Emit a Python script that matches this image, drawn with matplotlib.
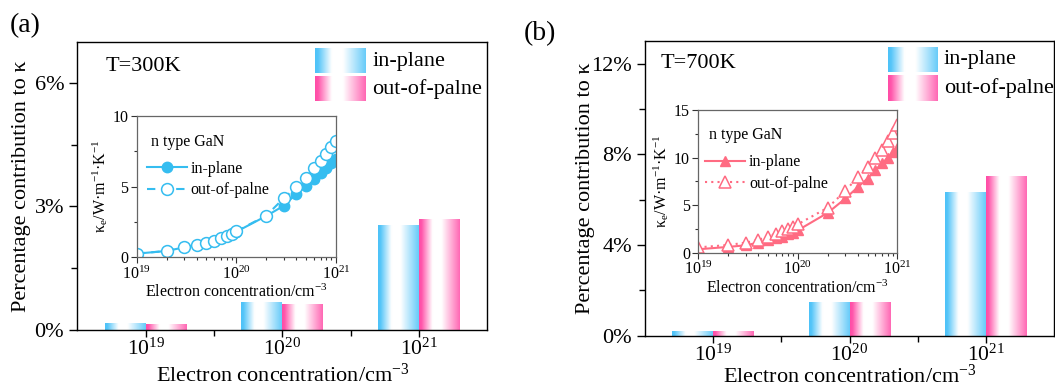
import numpy as np
import matplotlib
matplotlib.use("Agg")
import matplotlib.pyplot as plt
from matplotlib.colors import to_rgb
from matplotlib.ticker import FixedLocator, MultipleLocator, LogLocator, NullFormatter, PercentFormatter

plt.rcParams["font.family"] = ["Liberation Serif", "DejaVu Serif"]
plt.rcParams["mathtext.fontset"] = "custom"
plt.rcParams["mathtext.rm"] = "Liberation Serif"
plt.rcParams["mathtext.it"] = "Liberation Serif:italic"
plt.rcParams["mathtext.bf"] = "Liberation Serif:bold"

# ---- bar data: share of electronic contribution (%) ----
conc_labels = [r"$10^{19}$", r"$10^{20}$", r"$10^{21}$"]
pct_300_in = [0.15, 0.67, 2.54]
pct_300_out = [0.13, 0.63, 2.68]
pct_700_in = [0.21, 1.49, 6.33]
pct_700_out = [0.21, 1.49, 7.02]

# ---- inset data: electronic thermal conductivity (W/m/K) ----
n_conc = [1e19, 2e19, 3e19, 4e19, 5e19, 6e19, 7e19, 8e19, 9e19,
          1e20, 2e20, 3e20, 4e20, 5e20, 6e20, 7e20, 8e20, 9e20, 1e21]
ke_300_in = [0.24, 0.43, 0.69, 0.88, 1.00, 1.17, 1.33, 1.50, 1.65, 1.80,
             2.92, 3.65, 4.50, 5.05, 5.55, 5.95, 6.30, 6.65, 7.00]
ke_300_out = [0.24, 0.43, 0.69, 0.88, 1.00, 1.17, 1.33, 1.52, 1.67, 1.83,
              2.95, 4.19, 4.95, 5.64, 6.31, 6.79, 7.31, 7.79, 8.24]
ke_700_in = [0.35, 0.60, 0.77, 1.05, 1.30, 1.50, 1.69, 1.93, 2.10, 2.35,
             4.20, 5.70, 6.90, 7.80, 8.70, 9.40, 10.0, 10.6, 11.0]
ke_700_out = [0.55, 0.80, 1.05, 1.33, 1.69, 2.00, 2.28, 2.53, 2.74, 2.99,
              4.74, 6.50, 7.97, 9.03, 10.0, 10.85, 11.77, 12.65, 13.4]

BLUE_BAR = "#4CC2F8"
PINK_BAR = "#FF4CA6"
BLUE_LINE = "#35BDF0"
PINK_LINE = "#FF6B82"
FS = 16
FS_IN = 11.5


def gradient_row(color, n=256):
    t = np.linspace(0, 1, n)
    w = np.interp(t, [0.0, 0.06, 0.33, 0.55, 1.0], [1.0, 0.95, 0.0, 0.0, 0.85])
    base = np.array(to_rgb(color))
    rgb = 1 - w[:, None] * (1 - base)
    return rgb[None, :, :]


def gradient_bars(ax, heights, offset, width, color):
    xs = np.arange(len(heights)) + offset
    bars = ax.bar(xs, heights, width, color="none", edgecolor="none", zorder=2)
    for b in bars:
        x0, w, h = b.get_x(), b.get_width(), b.get_height()
        ax.imshow(gradient_row(color), extent=[x0, x0 + w, 0, h], aspect="auto",
                  interpolation="bilinear", zorder=2)


def legend_patch(ax, box, color):
    ax.imshow(gradient_row(color), extent=box, transform=ax.transAxes, aspect="auto",
              interpolation="bilinear", zorder=3)


def main_panel(ax, p_in, p_out, ymax, major, minor, temp, leg, tpos):
    gradient_bars(ax, p_in, -0.15, 0.3, BLUE_BAR)
    gradient_bars(ax, p_out, 0.15, 0.3, PINK_BAR)
    ax.set_xticks([0, 1, 2], conc_labels)
    ax.xaxis.set_minor_locator(FixedLocator([0.5, 1.5]))
    ax.yaxis.set_major_locator(MultipleLocator(major))
    ax.yaxis.set_minor_locator(MultipleLocator(minor))
    ax.yaxis.set_major_formatter(PercentFormatter(xmax=100, decimals=0))
    ax.tick_params(which="both", direction="out", labelsize=FS, width=1.0,
                   top=False, right=False)
    ax.tick_params(which="major", length=6)
    ax.tick_params(which="minor", length=4)
    ax.tick_params(axis="x", which="major", pad=1.5, length=5, labelsize=15.5)
    for s in ax.spines.values():
        s.set_linewidth(1.0)
    ax.set_ylabel("Percentage contribution to κ", fontsize=FS)
    ax.set_xlabel("Electron concentration/cm$^{-3}$", fontsize=FS)
    ax.text(tpos[0], tpos[1], temp, transform=ax.transAxes, fontsize=FS,
            ha="left", va="center")
    x0, x1, y0a, y1a, y0b, y1b, tx = leg
    legend_patch(ax, [x0, x1, y0a, y1a], BLUE_BAR)
    legend_patch(ax, [x0, x1, y0b, y1b], PINK_BAR)
    ax.text(tx, (y0a + y1a) / 2, "in-plane", transform=ax.transAxes, fontsize=FS,
            ha="left", va="center")
    ax.text(tx, (y0b + y1b) / 2, "out-of-palne", transform=ax.transAxes, fontsize=FS,
            ha="left", va="center")
    ax.set_xlim(-0.5, 2.5)
    ax.set_ylim(0, ymax)


def inset_panel(ax, k_in, k_out, color, marker, out_ls, ymax, leg_anchor):
    ax.plot(n_conc, k_in, linestyle="-", marker=marker, color=color, mfc=color,
            mec=color, ms=7.5, lw=1.5, label="in-plane")
    ax.plot(n_conc, k_out, linestyle=out_ls, marker=marker, color=color, mfc="white",
            mec=color, ms=8.5, mew=1.1, lw=1.5, label="out-of-palne")
    ax.set_xscale("log")
    ax.set_xlim(1e19, 1e21)
    ax.set_ylim(0, ymax)
    ax.xaxis.set_major_locator(FixedLocator([1e19, 1e20, 1e21]))
    ax.xaxis.set_minor_locator(LogLocator(base=10, subs=np.arange(2, 10)))
    ax.xaxis.set_minor_formatter(NullFormatter())
    ax.yaxis.set_major_locator(MultipleLocator(5))
    ax.yaxis.set_minor_locator(MultipleLocator(2.5))
    ax.tick_params(which="both", direction="out", labelsize=FS_IN, width=0.8,
                   colors="#333333", labelcolor="black", top=False, right=False)
    ax.tick_params(which="major", length=4, pad=2)
    ax.tick_params(which="minor", length=2.5)
    for s in ax.spines.values():
        s.set_linewidth(0.9)
        s.set_color("#666666")
    ax.set_xlabel("Electron concentration/cm$^{-3}$", fontsize=FS_IN, labelpad=1)
    ax.set_ylabel("κ$_\\mathrm{e}$/W·m$^{-1}$·K$^{-1}$", fontsize=FS_IN, labelpad=2)
    lg = ax.legend(loc="upper left", bbox_to_anchor=leg_anchor, frameon=False,
                   fontsize=FS_IN, title="n type GaN", title_fontsize=FS_IN,
                   alignment="left", handlelength=2.5, handletextpad=0.25,
                   labelspacing=0.32, borderpad=0.0, borderaxespad=0.0)
    lg._legend_box.sep = 8
    lg.get_title().set_position((4, 0))


fig = plt.figure(figsize=(10.55, 3.88), dpi=100)

ax_a = fig.add_axes([0.0733, 0.1495, 0.3886, 0.743])
main_panel(ax_a, pct_300_in, pct_300_out, 7, 3, 1.5, "T=300K",
           (0.580, 0.702, 0.891, 0.975, 0.794, 0.878, 0.719), (0.068, 0.913))

ax_b = fig.add_axes([0.6114, 0.1353, 0.3877, 0.759])
main_panel(ax_b, pct_700_in, pct_700_out, 13, 4, 2, "T=700K",
           (0.593, 0.714, 0.896, 0.980, 0.797, 0.882, 0.731), (0.037, 0.925))

in_a = fig.add_axes([0.1296, 0.3376, 0.1889, 0.3626])
inset_panel(in_a, ke_300_in, ke_300_out, BLUE_LINE, "o", (0, (4, 3)), 10, (0.05, 0.875))

in_b = fig.add_axes([0.6619, 0.3490, 0.1888, 0.3670])
inset_panel(in_b, ke_700_in, ke_700_out, PINK_LINE, "^", (0, (1, 2)), 15, (0.034, 0.88))

ax_a.yaxis.set_label_coords(-0.112, 0.5)
ax_b.yaxis.set_label_coords(-0.122, 0.5)

# tuck each x-axis title just under its tick labels while keeping it on the canvas
fig.canvas.draw()
renderer = fig.canvas.get_renderer()
for ax, gap in ((ax_a, 3.0), (ax_b, 1.0)):
    tick_bottom = min(t.get_window_extent(renderer).y0 for t in ax.get_xticklabels())
    lab_h = ax.xaxis.label.get_window_extent(renderer).height
    top_px = max(tick_bottom - gap, lab_h + 0.5)
    y_ax = ax.transAxes.inverted().transform((0, top_px))[1]
    ax.xaxis.set_label_coords(0.5, y_ax)

fig.text(0.009, 0.965, "(a)", fontsize=20, ha="left", va="top")
fig.text(0.496, 0.945, "(b)", fontsize=20, ha="left", va="top")

fig.savefig("out.png", dpi=100, facecolor="white")
